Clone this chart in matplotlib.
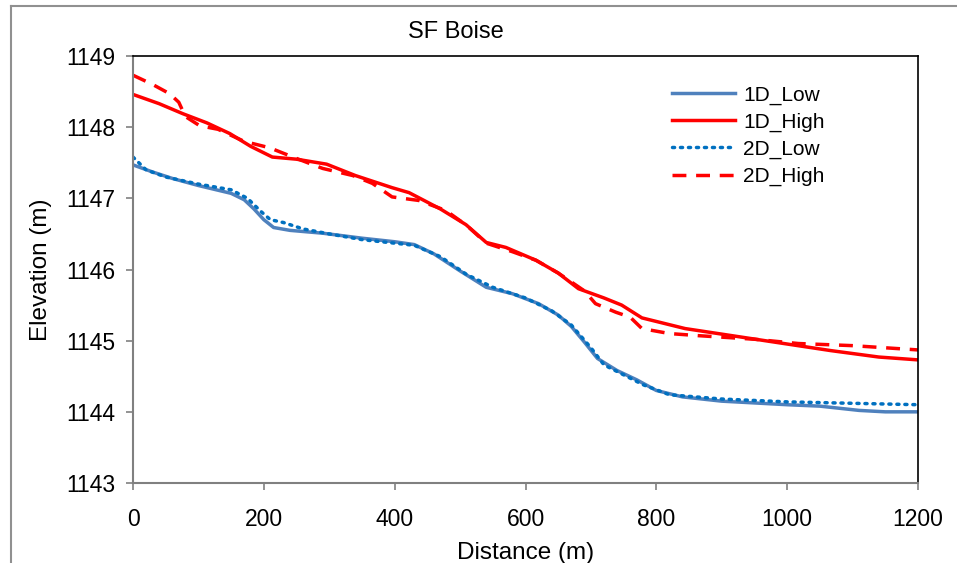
import matplotlib.pyplot as plt
from matplotlib.lines import Line2D

plt.rcParams['font.family'] = ['Liberation Sans', 'DejaVu Sans']

# 1D model, low flow
x_1d_low = [0, 30, 60, 100, 150, 170, 185, 200, 215, 240, 290, 350, 400, 430, 460,
            500, 540, 580, 620, 650, 670, 690, 710, 740, 770, 800, 840, 900, 1000,
            1050, 1080, 1110, 1150, 1200]
y_1d_low = [1147.47, 1147.37, 1147.28, 1147.18, 1147.07, 1146.98, 1146.85, 1146.70,
            1146.59, 1146.55, 1146.51, 1146.44, 1146.39, 1146.35, 1146.22, 1145.98,
            1145.75, 1145.66, 1145.52, 1145.36, 1145.20, 1144.98, 1144.75, 1144.58,
            1144.45, 1144.30, 1144.21, 1144.15, 1144.10, 1144.08, 1144.05, 1144.02,
            1144.00, 1144.00]

# 1D model, high flow
x_1d_high = [0, 40, 76, 113, 148, 180, 213, 250, 296, 340, 396, 422, 470, 509, 540,
             570, 616, 650, 681, 720, 747, 778, 844, 966, 1067, 1140, 1200]
y_1d_high = [1148.46, 1148.33, 1148.19, 1148.06, 1147.91, 1147.73, 1147.58, 1147.55,
             1147.48, 1147.32, 1147.15, 1147.08, 1146.85, 1146.63, 1146.38, 1146.31,
             1146.13, 1145.95, 1145.73, 1145.60, 1145.50, 1145.32, 1145.17, 1145.00,
             1144.86, 1144.77, 1144.73]

# 2D model, low flow
x_2d_low = [0, 20, 50, 100, 150, 175, 195, 210, 230, 260, 300, 350, 400, 430, 470,
            510, 550, 600, 640, 670, 700, 720, 750, 780, 820, 900, 1000, 1100, 1200]
y_2d_low = [1147.58, 1147.40, 1147.30, 1147.20, 1147.12, 1147.00, 1146.82, 1146.70,
            1146.66, 1146.57, 1146.50, 1146.42, 1146.37, 1146.34, 1146.18, 1145.93,
            1145.75, 1145.60, 1145.42, 1145.22, 1144.90, 1144.66, 1144.52, 1144.38,
            1144.24, 1144.18, 1144.14, 1144.12, 1144.10]

# 2D model, high flow
x_2d_high = [0, 30, 56, 70, 80, 102, 130, 170, 209, 250, 290, 336, 366, 396, 437,
             478, 510, 540, 580, 616, 650, 690, 707, 738, 760, 778, 820, 865, 950,
             1017, 1100, 1200]
y_2d_high = [1148.73, 1148.60, 1148.47, 1148.35, 1148.15, 1148.02, 1147.97, 1147.80,
             1147.71, 1147.56, 1147.42, 1147.32, 1147.21, 1147.02, 1146.97, 1146.83,
             1146.62, 1146.37, 1146.25, 1146.13, 1145.95, 1145.70, 1145.52, 1145.40,
             1145.33, 1145.17, 1145.10, 1145.07, 1145.02, 1144.96, 1144.93, 1144.87]

fig = plt.figure(figsize=(9.57, 5.63), dpi=100)
ax = fig.add_axes([133 / 957, 1 - 483 / 563, 785 / 957, 427 / 563])

ax.plot(x_1d_low, y_1d_low, color='#4F81BD', lw=2.5, label='1D_Low')
ax.plot(x_1d_high, y_1d_high, color='#FF0000', lw=2.5, label='1D_High')
ax.plot(x_2d_low, y_2d_low, color='#0070C0', lw=2.5, linestyle=(0, (0.6, 1.7)),
        dash_capstyle='round', label='2D_Low')
ax.plot(x_2d_high, y_2d_high, color='#FF0000', lw=2.5, linestyle=(0, (4.0, 2.8)),
        label='2D_High')

ax.set_xlim(0, 1200)
ax.set_ylim(1143, 1149)
ax.set_xticks(range(0, 1201, 200))
ax.set_yticks(range(1143, 1150))

for side in ['left', 'bottom']:
    ax.spines[side].set_color('#808080')
    ax.spines[side].set_linewidth(1.5)
for side in ['top', 'right']:
    ax.spines[side].set_color('black')
    ax.spines[side].set_linewidth(1.2)

ax.tick_params(axis='both', direction='out', length=5, width=1.2, color='#808080',
               labelsize=16.5)
ax.tick_params(axis='y', pad=8)
ax.tick_params(axis='x', pad=13)

ax.set_xlabel('Distance (m)', fontsize=17.5, labelpad=8)
ax.set_ylabel('Elevation (m)', fontsize=17.5, labelpad=10)

fig.text(456 / 957, 1 - 32 / 563, 'SF Boise', fontsize=17, ha='center', va='center')

ax.legend(loc='upper right', bbox_to_anchor=(0.905, 0.975), frameon=False, fontsize=15,
          handlelength=3.0, handletextpad=0.4, labelspacing=0.38)

# grey frame of the chart area
fig.add_artist(Line2D([11 / 957, 1], [1 - 6 / 563, 1 - 6 / 563], color='#909090', lw=1.5))
fig.add_artist(Line2D([11 / 957, 11 / 957], [0, 1 - 6 / 563], color='#909090', lw=1.5))

plt.savefig('out.png', dpi=100)
